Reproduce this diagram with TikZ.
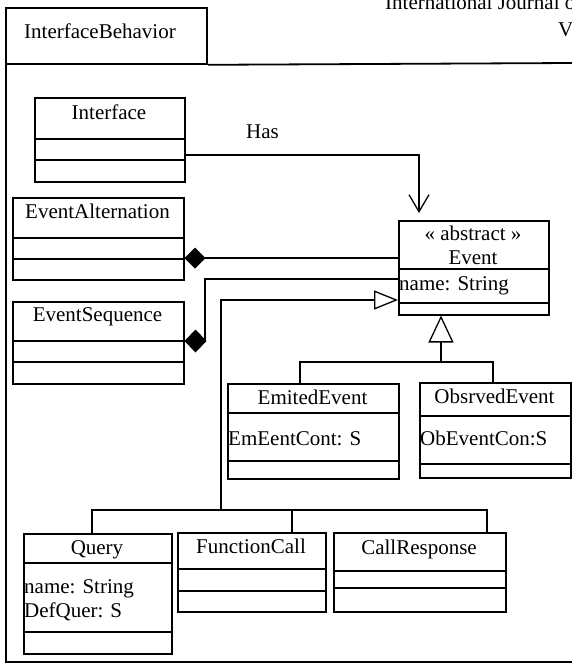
\documentclass[tikz,border=0pt]{standalone}
\usepackage{fontspec}
\setmainfont{Liberation Serif}
\usetikzlibrary{arrows.meta}
\tikzset{
  umlbox/.style={draw, line width=1.5pt, inner sep=0pt},
  divline/.style={line width=1.5pt},
  conn/.style={line width=1.3pt},
  framel/.style={line width=1.8pt},
  lbl/.style={inner sep=0pt, anchor=base, font=\fontsize{21}{25}\selectfont},
  attr/.style={inner sep=0pt, anchor=base west, font=\fontsize{21}{25}\selectfont},
}
\newcommand\umlclass[5]{\node[umlbox, minimum width={(#4-#2)*1pt}, minimum height={(#5-#3)*1pt}, anchor=north west] (#1) at (#2,#3) {};}
\newcommand\umldiv[2]{\coordinate (tmpdiv) at (0,#2); \draw[divline] (#1.west |- tmpdiv) -- (#1.east |- tmpdiv);}
\begin{document}
\begin{tikzpicture}[x=1pt,y=-1pt]
\useasboundingbox (0,0) rectangle (572,664);

% page header fragments
\node[attr] (hdr1) at (385,9) {International Journal o};
\node[attr] (hdr2) at (558,36) {V};

% package frame
\node[draw, framel, inner sep=0pt, minimum width=201pt, minimum height=56pt, anchor=north west] (tab) at (5,7) {};
\node[attr] (tabtxt) at (24,38) {InterfaceBehavior};
\coordinate (frTR) at (572,63);
\coordinate (frBL) at (6,662);
\coordinate (frBR) at (572,662);
\draw[framel] (tab.south east) -- (frTR);
\draw[framel] (tab.south west -| frBL) -- (frBL) -- (frBR);

% classes
\umlclass{iface}{34}{97}{184}{181}
\umldiv{iface}{139} \umldiv{iface}{160}
\node[lbl] (tiface) at (109,119) {Interface};

\umlclass{ealt}{12}{197}{183}{279}
\umldiv{ealt}{238} \umldiv{ealt}{259}
\node[lbl] (tealt) at (97.5,218) {EventAlternation};

\umlclass{eseq}{12}{301}{183}{383}
\umldiv{eseq}{341} \umldiv{eseq}{362}
\node[lbl] (teseq) at (97.5,321) {EventSequence};

\umlclass{event}{398}{220}{548}{314}
\umldiv{event}{269} \umldiv{event}{303}
\node[lbl] (tevent1) at (473,240) {« abstract »};
\node[lbl] (tevent2) at (473,264) {Event};
\node[attr] (aevent) at (399,290) {name: String};

\umlclass{emit}{227}{383}{398}{478}
\umldiv{emit}{413} \umldiv{emit}{461}
\node[lbl] (temit) at (312.5,404) {EmitedEvent};
\node[attr] (aemit) at (228,445) {EmEentCont: S};

\umlclass{obs}{419}{382}{570}{477}
\umldiv{obs}{416} \umldiv{obs}{464}
\node[lbl] (tobs) at (494.5,403) {ObsrvedEvent};
\node[attr] (aobs) at (420,445) {ObEventCon:S};

\umlclass{query}{23}{533}{171}{653}
\umldiv{query}{563} \umldiv{query}{632}
\node[lbl] (tquery) at (97,554) {Query};
\node[attr] (aquery1) at (24,593) {name: String};
\node[attr] (aquery2) at (24,617) {DefQuer: S};

\umlclass{fcall}{177}{532}{325}{611}
\umldiv{fcall}{569} \umldiv{fcall}{591}
\node[lbl] (tfcall) at (251,553) {FunctionCall};

\umlclass{cresp}{333}{532}{505}{611}
\umldiv{cresp}{571} \umldiv{cresp}{588}
\node[lbl] (tcresp) at (419,554) {CallResponse};

% Has association
\node[lbl] (has) at (262.5,138) {Has};
\coordinate (hasy) at (0,155);
\coordinate (hasend) at (419,213);
\draw[conn, -{Straight Barb[length=17pt,width=20pt]}] (iface.east |- hasy) -| (hasend);

% composition from EventAlternation
\coordinate (alty) at (0,258);
\draw[conn, {Diamond[length=21pt,width=21pt]}-] (ealt.east |- alty) -- (event.west |- alty);

% composition from EventSequence
\coordinate (seqy) at (0,341);
\coordinate (seqbend) at (205,341);
\coordinate (seqy2) at (0,279);
\draw[conn, {Diamond[length=22pt,width=23pt]}-] (eseq.east |- seqy) -- (seqbend) |- (event.west |- seqy2);

% generalization to Event (left)
\coordinate (q1) at (92,510);
\coordinate (f1) at (292,510);
\coordinate (g1) at (221,510);
\coordinate (c1) at (487,510);
\coordinate (geny) at (0,300);
\draw[conn] (query.north -| q1) -- (q1) -- (c1) -- (cresp.north -| c1);
\draw[conn] (f1) -- (fcall.north -| f1);
\draw[conn, -{Triangle[open,length=24pt,width=19pt]}] (g1) |- (event.west |- geny);

% generalization to Event (below)
\coordinate (e1) at (300,362);
\coordinate (o1) at (493,362);
\coordinate (v1) at (441,362);
\draw[conn] (emit.north -| e1) -- (e1) -- (o1) -- (obs.north -| o1);
\draw[conn, -{Triangle[open,length=27pt,width=25pt]}] (v1) -- (event.south -| v1);

\end{tikzpicture}
\end{document}
